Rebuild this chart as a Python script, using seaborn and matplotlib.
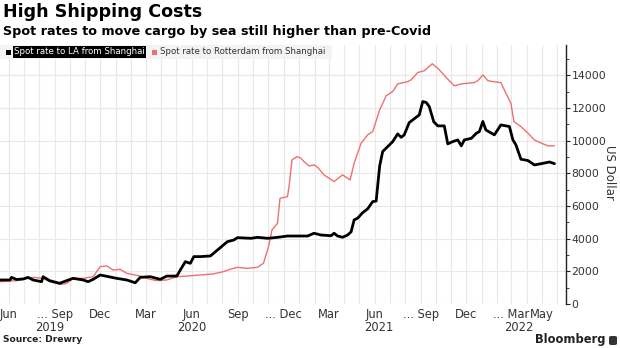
import matplotlib
matplotlib.use("Agg")
import matplotlib.pyplot as plt
import matplotlib.dates as mdates
from matplotlib.ticker import MultipleLocator, FixedLocator
from matplotlib.patches import Rectangle, FancyBboxPatch
import pandas as pd
import seaborn as sns

# Weekly spot rates (US$ per 40ft container), Shanghai -> Los Angeles
la_dates = ["2019-05-15", "2019-06-04", "2019-06-07", "2019-06-17", "2019-06-30", "2019-07-10",
            "2019-07-20", "2019-08-06", "2019-08-09", "2019-08-22", "2019-09-11", "2019-09-25",
            "2019-10-08", "2019-10-28", "2019-11-07", "2019-11-17", "2019-12-01", "2020-01-03",
            "2020-01-23", "2020-02-09", "2020-02-19", "2020-03-10", "2020-03-30", "2020-04-12",
            "2020-05-02", "2020-05-09", "2020-05-19", "2020-05-29", "2020-06-05", "2020-06-18",
            "2020-07-08", "2020-07-22", "2020-08-11", "2020-08-24", "2020-08-31", "2020-09-27",
            "2020-10-10", "2020-10-30", "2020-11-19", "2020-12-09", "2021-01-05", "2021-01-18",
            "2021-01-31", "2021-02-14", "2021-03-06", "2021-03-12", "2021-03-19", "2021-03-29",
            "2021-04-08", "2021-04-15", "2021-04-21", "2021-04-28", "2021-05-08", "2021-05-18",
            "2021-05-28", "2021-06-04", "2021-06-11", "2021-06-17", "2021-06-27", "2021-07-07",
            "2021-07-17", "2021-07-24", "2021-07-30", "2021-08-09", "2021-08-23", "2021-08-29",
            "2021-09-05", "2021-09-12", "2021-09-18", "2021-09-27", "2021-10-05", "2021-10-18",
            "2021-10-25", "2021-11-04", "2021-11-14", "2021-11-21", "2021-11-27", "2021-12-11",
            "2021-12-21", "2021-12-27", "2022-01-03", "2022-01-09", "2022-01-26", "2022-02-08",
            "2022-02-25", "2022-03-04", "2022-03-10", "2022-03-20", "2022-04-03", "2022-04-16",
            "2022-04-30", "2022-05-16", "2022-05-26"]
la_values = [1470, 1470, 1630, 1500, 1530, 1630,
             1470, 1365, 1670, 1430, 1265, 1430,
             1570, 1470, 1365, 1510, 1775, 1570,
             1470, 1300, 1630, 1670, 1510, 1710,
             1710, 2080, 2590, 2490, 2900, 2900,
             2940, 3300, 3815, 3920, 4060, 4020,
             4080, 4020, 4080, 4160, 4160, 4160,
             4330, 4220, 4180, 4330, 4160, 4085,
             4220, 4420, 5145, 5250, 5590, 5820,
             6265, 6300, 8450, 9330, 9630, 9940,
             10410, 10200, 10350, 11100, 11430, 11570,
             12390, 12330, 12080, 11150, 10900, 10900,
             9800, 9940, 10040, 9680, 10040, 10140,
             10450, 10550, 11170, 10650, 10350, 10960,
             10860, 10040, 9740, 8860, 8780, 8510,
             8590, 8690, 8590]

# Weekly spot rates, Shanghai -> Rotterdam
rot_dates = ["2019-05-15", "2019-06-17", "2019-07-20", "2019-08-09", "2019-08-22", "2019-09-14",
             "2019-09-25", "2019-10-08", "2019-10-28", "2019-11-17", "2019-12-01", "2019-12-14",
             "2019-12-27", "2020-01-10", "2020-01-23", "2020-02-19", "2020-03-10", "2020-03-23",
             "2020-04-12", "2020-05-02", "2020-05-22", "2020-06-18", "2020-07-14", "2020-08-03",
             "2020-08-16", "2020-08-31", "2020-09-19", "2020-10-10", "2020-10-22", "2020-11-01",
             "2020-11-08", "2020-11-19", "2020-11-24", "2020-12-09", "2020-12-12", "2020-12-18",
             "2020-12-28", "2021-01-05", "2021-01-11", "2021-01-21", "2021-01-31", "2021-02-07",
             "2021-02-20", "2021-03-12", "2021-03-29", "2021-04-13", "2021-04-21", "2021-05-05",
             "2021-05-18", "2021-05-28", "2021-06-11", "2021-06-24", "2021-07-07", "2021-07-17",
             "2021-08-06", "2021-08-13", "2021-08-26", "2021-09-08", "2021-09-24", "2021-10-05",
             "2021-10-25", "2021-11-07", "2021-11-21", "2021-12-04", "2021-12-17", "2021-12-24",
             "2022-01-03", "2022-01-13", "2022-01-23", "2022-02-08", "2022-02-18", "2022-02-28",
             "2022-03-06", "2022-03-20", "2022-04-03", "2022-04-16", "2022-04-30", "2022-05-13",
             "2022-05-26"]
rot_values = [1365, 1430, 1630, 1570, 1365, 1200,
              1265, 1570, 1570, 1670, 2285, 2330,
              2080, 2120, 1880, 1710, 1510, 1430,
              1470, 1670, 1710, 1775, 1840, 1980,
              2120, 2245, 2180, 2245, 2490, 3510,
              4530, 4940, 6470, 6570, 7180, 8820,
              9020, 8920, 8710, 8450, 8510, 8370,
              7900, 7490, 7900, 7590, 8615, 9840,
              10350, 10550, 11880, 12740, 13000, 13470,
              13610, 13720, 14170, 14270, 14700, 14430,
              13760, 13350, 13470, 13510, 13550, 13670,
              14020, 13670, 13610, 13550, 12900, 12280,
              11170, 10860, 10450, 10040, 9840, 9680,
              9680]

series_names = ["Spot rate to LA from Shanghai", "Spot rate to Rotterdam from Shanghai"]
tick_dates = ["2019-06-01", "2019-09-01", "2019-12-01", "2020-03-01", "2020-06-01", "2020-09-01",
              "2020-12-01", "2021-03-01", "2021-06-01", "2021-09-01", "2021-12-01", "2022-03-01",
              "2022-05-01"]
tick_labels = ["Jun", "... Sep", "Dec", "Mar", "Jun", "Sep", "... Dec", "Mar", "Jun", "... Sep",
               "Dec", "... Mar", "May"]
year_labels = ["2019", "2020", "2021", "2022"]
year_dates = ["2019-08-23", "2020-06-01", "2021-06-10", "2022-03-16"]
y_ticks = [0, 2000, 4000, 6000, 8000, 10000, 12000, 14000]

la = pd.DataFrame({"date": pd.to_datetime(la_dates), "rate": la_values})
rot = pd.DataFrame({"date": pd.to_datetime(rot_dates), "rate": rot_values})

sns.set_style("white")
plt.rcParams["font.family"] = ["DejaVu Sans"]

W, H = 620, 348
fig = plt.figure(figsize=(W / 100, H / 100), dpi=100)
ax_left, ax_right, ax_top, ax_bottom = 0, 566, 45, 304
ax = fig.add_axes([ax_left / W, 1 - ax_bottom / H, (ax_right - ax_left) / W, (ax_bottom - ax_top) / H])

red = "#f07070"
sns.lineplot(data=rot, x="date", y="rate", ax=ax, color=red, linewidth=1.0, legend=False, zorder=3)
sns.lineplot(data=la, x="date", y="rate", ax=ax, color="black", linewidth=2.0, legend=False, zorder=4)

ax.set_xlim(pd.Timestamp("2019-05-15"), pd.Timestamp("2022-06-18"))
ax.set_ylim(0, 15850)

# grid: monthly verticals, 2000-step horizontals
ax.xaxis.set_minor_locator(mdates.MonthLocator())
ax.xaxis.set_major_locator(FixedLocator(mdates.date2num(pd.to_datetime(tick_dates))))
ax.set_xticklabels(tick_labels)
ax.grid(True, which="minor", axis="x", color="#e8e8e8", linewidth=0.8)
ax.grid(True, which="major", axis="x", color="#e8e8e8", linewidth=0.8)
ax.yaxis.set_major_locator(FixedLocator(y_ticks))
ax.yaxis.set_minor_locator(MultipleLocator(1000))
ax.grid(True, which="major", axis="y", color="#e8e8e8", linewidth=0.8)
ax.set_axisbelow(True)

for s in ["left", "top", "bottom"]:
    ax.spines[s].set_visible(False)
ax.spines["right"].set_color("#222222")
ax.spines["right"].set_linewidth(1.0)

ax.yaxis.tick_right()
ax.yaxis.set_label_position("right")
ax.tick_params(axis="y", which="major", direction="out", length=3, width=0.8, colors="#222222",
               labelsize=7.8, labelcolor="#333333", pad=1)
ax.tick_params(axis="y", which="minor", direction="out", length=2, width=0.6, colors="#222222")
ax.tick_params(axis="x", which="both", length=0, labelsize=8.3, labelcolor="#333333", pad=3)
ax.set_xlabel("")
ax.set_ylabel("US Dollar", rotation=270, fontsize=8.5, color="#333333", va="center", ha="center")
ax.yaxis.set_label_coords((609 - ax_left) / (ax_right - ax_left), (304 - 172) / (ax_bottom - ax_top))

for lbl, d in zip(year_labels, year_dates):
    ax.text(pd.Timestamp(d), -0.064, lbl, transform=ax.get_xaxis_transform(), ha="center", va="top",
            fontsize=8.3, color="#333333")

# titles
fig.text(3 / W, 1 - 12 / H, "High Shipping Costs", fontsize=12.6, fontweight="bold", color="black",
         va="center", ha="left")
fig.text(3 / W, 1 - 31 / H, "Spot rates to move cargo by sea still higher than pre-Covid", fontsize=9.2,
         fontweight="bold", color="black", va="center", ha="left")

# legend strip
fig.patches.append(Rectangle((0, 1 - 59 / H), 332 / W, 14 / H, transform=fig.transFigure,
                             facecolor="#f3f3f3", edgecolor="none", zorder=0))
fig.patches.append(Rectangle((6 / W, 1 - 55 / H), 5 / W, 5 / H, transform=fig.transFigure,
                             facecolor="black", edgecolor="none", zorder=2))
fig.text(14 / W, 1 - 52 / H, series_names[0], fontsize=6.2, color="white", va="center", ha="left",
         bbox=dict(boxstyle="square,pad=0.15", facecolor="black", edgecolor="none"))
fig.patches.append(Rectangle((152 / W, 1 - 55 / H), 5 / W, 5 / H, transform=fig.transFigure,
                             facecolor=red, edgecolor="none", zorder=2))
fig.text(160 / W, 1 - 52 / H, series_names[1], fontsize=6.2, color="#333333", va="center", ha="left")

# footer
fig.text(3 / W, 1 - 340 / H, "Source: Drewry", fontsize=6.6, fontweight="bold", color="#222222",
         va="center", ha="left")
fig.text(605 / W, 1 - 340 / H, "Bloomberg", fontsize=8.3, fontweight="bold", color="#222222",
         va="center", ha="right")
fig.patches.append(FancyBboxPatch((609 / W, 1 - 345 / H), 8 / W, 9 / H, transform=fig.transFigure,
                                  boxstyle="round,pad=0,rounding_size=0.004", facecolor="#333333",
                                  edgecolor="none"))

fig.savefig("out.png", dpi=100, facecolor="white")
